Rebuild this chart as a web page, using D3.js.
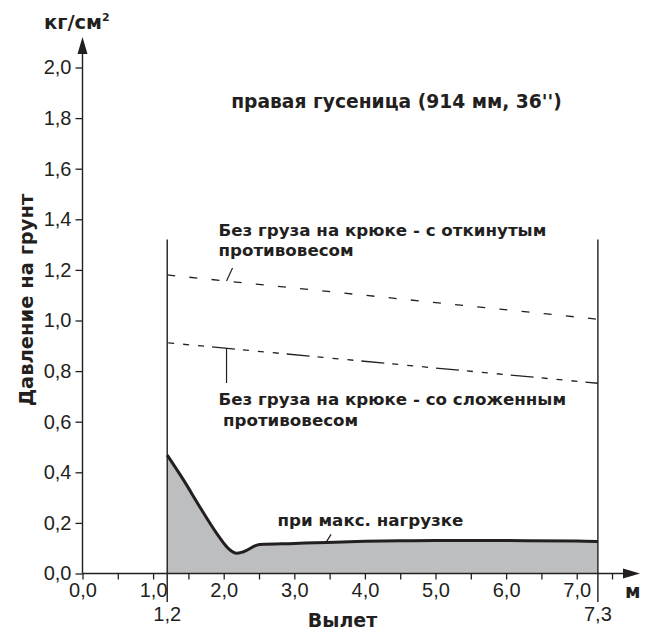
<!DOCTYPE html>
<html><head><meta charset="utf-8">
<script src="https://cdn.jsdelivr.net/npm/d3@7"></script>
<style>
html,body{margin:0;padding:0;background:#fff;}
svg{display:block;}
.tick text{font-family:"Liberation Sans",Arial,sans-serif;font-size:20px;fill:#231f20;}
.b{font-family:"DejaVu Sans",sans-serif;font-weight:bold;fill:#231f20;}
.r{font-family:"Liberation Sans",Arial,sans-serif;fill:#231f20;}
</style></head>
<body>
<svg id="c" width="653" height="630"></svg>
<script>
// ---- data ----
const xTickValues = [0,0.5,1,1.5,2,2.5,3,3.5,4,4.5,5,5.5,6,6.5,7,7.5];
const xLabelValues = [0,1,2,3,4,5,6,7];
const yTickValues = [0,0.2,0.4,0.6,0.8,1.0,1.2,1.4,1.6,1.8,2.0];
const boundaryX = [1.2, 7.3];           // вылет min / max
const boundaryLabels = ["1,2", "7,3"];
const boundaryTop = 1.32;
// Без груза на крюке - с откинутым противовесом
const openX = [1.2, 7.3];
const openY = [1.18, 1.005];
// Без груза на крюке - со сложенным противовесом
const foldedX = [1.2, 7.3];
const foldedY = [0.912, 0.752];
// при макс. нагрузке
const maxLoadX = [1.2, 1.43, 1.66, 1.9, 2.09, 2.18, 2.28, 2.51, 3.0, 3.46, 4.0, 4.5, 5.0, 6.0, 7.0, 7.3];
const maxLoadY = [0.468, 0.37, 0.264, 0.159, 0.093, 0.080, 0.086, 0.115, 0.119, 0.123, 0.127, 0.129, 0.13, 0.13, 0.128, 0.126];

const fmt = v => v.toFixed(1).replace(".", ",");
const ink = "#231f20";

const svg = d3.select("#c");
const x = d3.scaleLinear().domain([0, 7.3]).range([82.5, 597.9]);
const y = d3.scaleLinear().domain([0, 2]).range([573.5, 67.5]);

// filled area under max-load curve
const maxPts = maxLoadX.map((v,i)=>({x:v,y:maxLoadY[i]}));
svg.append("path").datum(maxPts)
  .attr("d", d3.area().x(d=>x(d.x)).y0(y(0)).y1(d=>y(d.y)).curve(d3.curveMonotoneX))
  .attr("fill", "#bcbec0");
svg.append("path").datum(maxPts)
  .attr("d", d3.line().x(d=>x(d.x)).y(d=>y(d.y)).curve(d3.curveMonotoneX))
  .attr("fill", "none").attr("stroke", ink).attr("stroke-width", 3).attr("stroke-linejoin","round");

// boundary vertical lines
boundaryX.forEach((bx,i)=>{
  svg.append("line").attr("x1",x(bx)).attr("x2",x(bx))
    .attr("y1",y(boundaryTop)).attr("y2",y(0)+28.5)
    .attr("stroke",ink).attr("stroke-width",1.4);
  svg.append("text").attr("class","r").attr("font-size",20)
    .attr("x",x(bx)).attr("y",620.5).attr("text-anchor","middle").text(boundaryLabels[i]);
});

// no-load lines
const line = d3.line().x(d=>x(d.x)).y(d=>y(d.y));
const openPts = openX.map((v,i)=>({x:v,y:openY[i]}));
const foldedPts = foldedX.map((v,i)=>({x:v,y:foldedY[i]}));
svg.append("path").datum(openPts).attr("d", line)
  .attr("fill","none").attr("stroke",ink).attr("stroke-width",1.3)
  .attr("stroke-dasharray","8,14.26").attr("stroke-dashoffset",0);
svg.append("path").datum(foldedPts).attr("d", line)
  .attr("fill","none").attr("stroke",ink).attr("stroke-width",1.3)
  .attr("stroke-dasharray","23,8,6,9,6,9,6,8").attr("stroke-dashoffset",30);

// axes
const yAxis = d3.axisLeft(y).tickValues(yTickValues).tickSize(7).tickPadding(4).tickFormat(fmt);
const gy = svg.append("g").attr("transform",`translate(${x(0)},0)`).call(yAxis);
gy.select(".domain").remove();
gy.selectAll(".tick line").attr("stroke",ink).attr("stroke-width",1.3);

const xAxis = d3.axisBottom(x).tickValues(xTickValues).tickSize(6).tickPadding(3)
  .tickFormat(d => xLabelValues.includes(d) ? fmt(d) : "");
const gx = svg.append("g").attr("transform",`translate(0,${y(0)})`).call(xAxis);
gx.select(".domain").remove();
gx.selectAll(".tick line").attr("stroke",ink).attr("stroke-width",1.3);

// axis lines with arrows
svg.append("line").attr("x1",x(0)).attr("x2",x(0)).attr("y1",y(0)).attr("y2",y(2)-14)
  .attr("stroke",ink).attr("stroke-width",1.4);
svg.append("path").attr("d",`M${x(0)},${y(2)-30.5}L${x(0)-5},${y(2)-13.5}L${x(0)+5},${y(2)-13.5}Z`).attr("fill",ink);
svg.append("line").attr("x1",x(0)).attr("x2",624).attr("y1",y(0)).attr("y2",y(0))
  .attr("stroke",ink).attr("stroke-width",1.4);
svg.append("path").attr("d",`M640,${y(0)}L623,${y(0)-5}L623,${y(0)+5}Z`).attr("fill",ink);

// unit labels
const unit = svg.append("text").attr("class","b").attr("font-size",19.5).attr("x",44).attr("y",28.5);
unit.append("tspan").text("кг/см");
unit.append("tspan").attr("font-size",11).attr("dy",-8).text("2");
svg.append("text").attr("class","b").attr("font-size",19).attr("x",625).attr("y",598).text("м");
svg.append("text").attr("class","b").attr("font-size",19).attr("x",342.5).attr("y",627).attr("text-anchor","middle").text("Вылет");
svg.append("text").attr("class","b").attr("font-size",19.5)
  .attr("transform","translate(33,300) rotate(-90)").attr("text-anchor","middle").text("Давление на грунт");

// title
svg.append("text").attr("class","b").attr("font-size",18.7).attr("x",396.5).attr("y",108)
  .attr("text-anchor","middle").text("правая гусеница (914 мм, 36'')");

// annotations
const interp = (xs,ys,v)=> ys[0] + (ys[1]-ys[0])*(v-xs[0])/(xs[1]-xs[0]);
const leadX = 2.04;
const uy = y(interp(openX,openY,leadX));
svg.append("line").attr("x1",x(leadX)).attr("y1",uy).attr("x2",x(leadX)+6).attr("y2",uy-13)
  .attr("stroke",ink).attr("stroke-width",1.2);
const ly = y(interp(foldedX,foldedY,leadX));
svg.append("line").attr("x1",x(leadX)).attr("y1",ly).attr("x2",x(leadX)).attr("y2",383)
  .attr("stroke",ink).attr("stroke-width",1.2);
const mlX = 3.45, mlY = y(0.123);
svg.append("line").attr("x1",x(mlX)).attr("y1",mlY).attr("x2",x(mlX)+5).attr("y2",mlY-8)
  .attr("stroke",ink).attr("stroke-width",1.2);

const lab = (txt,xx,yy)=>svg.append("text").attr("class","b").attr("font-size",16.7).attr("x",xx).attr("y",yy).text(txt);
lab("Без груза на крюке - с откинутым",218.5,235.5);
lab("противовесом",218.5,256);
lab("Без груза на крюке - со сложенным",218.5,405);
lab("противовесом",223,425.5);
lab("при макс. нагрузке",277.5,526);
</script>
</body></html>
